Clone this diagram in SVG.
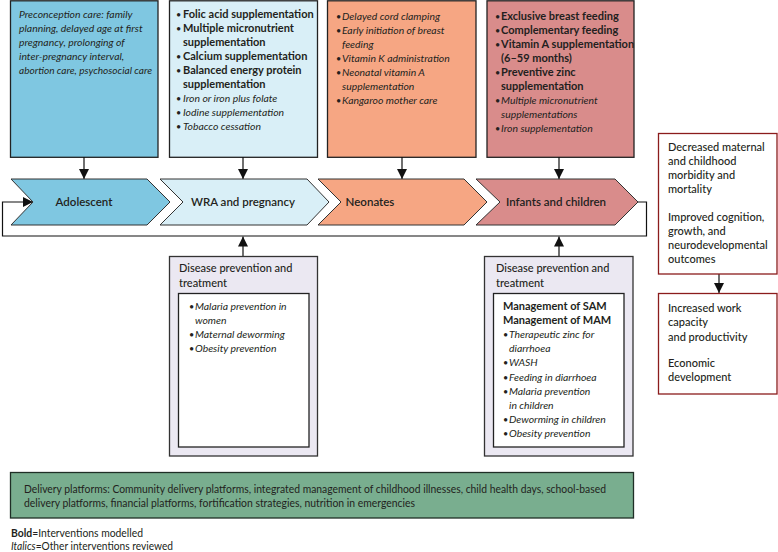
<svg xmlns="http://www.w3.org/2000/svg" width="778" height="552" viewBox="0 0 778 552">
<defs>
<marker id="ah" markerUnits="userSpaceOnUse" markerWidth="10" markerHeight="10" viewBox="0 0 10 10" refX="10" refY="5" orient="auto">
<path d="M0,0 L10,5 L0,10 Z" fill="#111"/>
</marker>
<style>
text{font-family:Lato,"Noto Sans","DejaVu Sans",sans-serif;font-size:11px;fill:#231f20}
.b{font-weight:bold}
.i{font-style:italic;font-size:10.4px}
.bl{font-size:9px}
.box{stroke:#222;stroke-width:1.3}
.chev{stroke:#333;stroke-width:1}
.out{fill:#fff;stroke:#8b1c1c;stroke-width:1.3}
.dz{fill:#ebe8f2;stroke:#333;stroke-width:1.3}
.inner{fill:#fff;stroke:#222;stroke-width:1.3}
.con{fill:none;stroke:#111;stroke-width:1.2}
.lbl{font-weight:600;font-size:11.5px}
.h{font-weight:500}
</style>
</defs>

<g id="box-adolescent">
<rect class="box" x="10.5" y="0.8" width="147.5" height="156.5" fill="#7fc7e1"/>
<text class="i" x="19" y="18">Preconception care: family</text>
<text class="i" x="19" y="32">planning, delayed age at first</text>
<text class="i" x="19" y="46">pregnancy, prolonging of</text>
<text class="i" x="19" y="60">inter-pregnancy interval,</text>
<text class="i" x="19" y="74" textLength="133" lengthAdjust="spacingAndGlyphs">abortion care, psychosocial care</text>
</g>

<g id="box-wra">
<rect class="box" x="169.5" y="0.8" width="148" height="156.5" fill="#d9eff7"/>
<text class="bl" x="176" y="17.5">•</text><text class="b" x="183" y="18">Folic acid supplementation</text>
<text class="bl" x="176" y="31.5">•</text><text class="b" x="183" y="32">Multiple micronutrient</text>
<text class="b" x="183" y="46">supplementation</text>
<text class="bl" x="176" y="59.5">•</text><text class="b" x="183" y="60">Calcium supplementation</text>
<text class="bl" x="176" y="73.5">•</text><text class="b" x="183" y="74">Balanced energy protein</text>
<text class="b" x="183" y="88">supplementation</text>
<text class="bl" x="176" y="101.5">•</text><text class="i" x="183" y="102">Iron or iron plus folate</text>
<text class="bl" x="176" y="115.5">•</text><text class="i" x="183" y="116">Iodine supplementation</text>
<text class="bl" x="176" y="129.5">•</text><text class="i" x="183" y="130">Tobacco cessation</text>
</g>

<g id="box-neonates">
<rect class="box" x="327.5" y="0.8" width="148.5" height="156.5" fill="#f6a683"/>
<text class="bl" x="336" y="19.5">•</text><text class="i" x="342" y="20">Delayed cord clamping</text>
<text class="bl" x="336" y="33.5">•</text><text class="i" x="342" y="34">Early initiation of breast</text>
<text class="i" x="342" y="48">feeding</text>
<text class="bl" x="336" y="61.5">•</text><text class="i" x="342" y="62">Vitamin K administration</text>
<text class="bl" x="336" y="75.5">•</text><text class="i" x="342" y="76">Neonatal vitamin A</text>
<text class="i" x="342" y="90">supplementation</text>
<text class="bl" x="336" y="103.5">•</text><text class="i" x="342" y="104">Kangaroo mother care</text>
</g>

<g id="box-infants">
<rect class="box" x="487" y="0.8" width="147" height="156.5" fill="#d98c8b"/>
<text class="bl" x="495" y="19.5">•</text><text class="b" x="501" y="20">Exclusive breast feeding</text>
<text class="bl" x="495" y="33.5">•</text><text class="b" x="501" y="34">Complementary feeding</text>
<text class="bl" x="495" y="47.5">•</text><text class="b" x="501" y="48">Vitamin A supplementation</text>
<text class="b" x="501" y="62">(6–59 months)</text>
<text class="bl" x="495" y="75.5">•</text><text class="b" x="501" y="76">Preventive zinc</text>
<text class="b" x="501" y="90">supplementation</text>
<text class="bl" x="495" y="103.5">•</text><text class="i" x="501" y="104">Multiple micronutrient</text>
<text class="i" x="501" y="118">supplementations</text>
<text class="bl" x="495" y="131.5">•</text><text class="i" x="501" y="132">Iron supplementation</text>
</g>

<g id="connectors">
<line class="con" x1="84" y1="157" x2="84" y2="179" marker-end="url(#ah)"/>
<line class="con" x1="243" y1="157" x2="243" y2="179" marker-end="url(#ah)"/>
<line class="con" x1="402" y1="157" x2="402" y2="179" marker-end="url(#ah)"/>
<line class="con" x1="559" y1="157" x2="559" y2="179" marker-end="url(#ah)"/>
<path class="con" d="M638,202 H646.5 V236 H2.5 V202 H33" marker-end="url(#ah)"/>
<line class="con" x1="243" y1="256" x2="243" y2="236.5" marker-end="url(#ah)"/>
<line class="con" x1="559" y1="256" x2="559" y2="236.5" marker-end="url(#ah)"/>
<line class="con" x1="719" y1="274" x2="719" y2="293" marker-end="url(#ah)"/>
</g>

<g id="stage-adolescent">
<polygon class="chev" points="11,179 147,179 170,202 147,225 11,225 33,202" fill="#7fc7e1"/>
<text class="lbl" x="84" y="206" text-anchor="middle">Adolescent</text>
</g>
<g id="stage-wra">
<polygon class="chev" points="160,179 307,179 329,202 307,225 160,225 183,202" fill="#d9eff7"/>
<text class="lbl" x="243" y="206" text-anchor="middle">WRA and pregnancy</text>
</g>
<g id="stage-neonates">
<polygon class="chev" points="318,179 464,179 487,202 464,225 318,225 341,202" fill="#f6a683"/>
<text class="lbl" x="370" y="206" text-anchor="middle">Neonates</text>
</g>
<g id="stage-infants">
<polygon class="chev" points="476,179 615,179 638,202 615,225 476,225 500,202" fill="#d98c8b"/>
<text class="lbl" x="556" y="206" text-anchor="middle">Infants and children</text>
</g>

<g id="disease-wra">
<rect class="dz" x="169.5" y="256.5" width="148" height="199.5"/>
<text class="h" x="179" y="272">Disease prevention and</text>
<text class="h" x="179" y="287">treatment</text>
<rect class="inner" x="178.5" y="293.5" width="130.5" height="153.5"/>
<text class="bl" x="189" y="309.5">•</text><text class="i" x="195" y="310">Malaria prevention in</text>
<text class="i" x="195" y="324">women</text>
<text class="bl" x="189" y="337.5">•</text><text class="i" x="195" y="338">Maternal deworming</text>
<text class="bl" x="189" y="351.5">•</text><text class="i" x="195" y="352">Obesity prevention</text>
</g>

<g id="disease-infants">
<rect class="dz" x="484.5" y="256.5" width="148.5" height="199.5"/>
<text class="h" x="496" y="272">Disease prevention and</text>
<text class="h" x="496" y="287">treatment</text>
<rect class="inner" x="493.5" y="293.5" width="130.5" height="153.5"/>
<text class="b" x="503" y="310">Management of SAM</text>
<text class="b" x="503" y="324">Management of MAM</text>
<text class="bl" x="503" y="337.5">•</text><text class="i" x="509" y="338">Therapeutic zinc for</text>
<text class="i" x="509" y="352">diarrhoea</text>
<text class="bl" x="503" y="365.5">•</text><text class="i" x="509" y="366">WASH</text>
<text class="bl" x="503" y="380.5">•</text><text class="i" x="509" y="381">Feeding in diarrhoea</text>
<text class="bl" x="503" y="394.5">•</text><text class="i" x="509" y="395">Malaria prevention</text>
<text class="i" x="509" y="409">in children</text>
<text class="bl" x="503" y="422.5">•</text><text class="i" x="509" y="423">Deworming in children</text>
<text class="bl" x="503" y="436.5">•</text><text class="i" x="509" y="437">Obesity prevention</text>
</g>

<g id="outcome-health">
<rect class="out" x="658.5" y="133.5" width="118.5" height="140.5"/>
<text class="h" x="668" y="151">Decreased maternal</text>
<text class="h" x="668" y="165">and childhood</text>
<text class="h" x="668" y="179">morbidity and</text>
<text class="h" x="668" y="193">mortality</text>
<text class="h" x="668" y="221">Improved cognition,</text>
<text class="h" x="668" y="235">growth, and</text>
<text class="h" x="668" y="249">neurodevelopmental</text>
<text class="h" x="668" y="263">outcomes</text>
</g>

<g id="outcome-economic">
<rect class="out" x="658.5" y="293.5" width="118.5" height="100.5"/>
<text class="h" x="668" y="312">Increased work</text>
<text class="h" x="668" y="326">capacity</text>
<text class="h" x="668" y="341">and productivity</text>
<text class="h" x="668" y="367">Economic</text>
<text class="h" x="668" y="381">development</text>
</g>

<g id="delivery">
<rect x="10.5" y="472.5" width="623" height="45.5" fill="#79ae8f" stroke="#1f2e26" stroke-width="1.3"/>
<text x="24" y="493" textLength="582" lengthAdjust="spacingAndGlyphs">Delivery platforms: Community delivery platforms, integrated management of childhood illnesses, child health days, school-based</text>
<text x="24" y="507" textLength="391" lengthAdjust="spacingAndGlyphs">delivery platforms, financial platforms, fortification strategies, nutrition in emergencies</text>
</g>

<g id="legend">
<text x="11" y="537" textLength="132" lengthAdjust="spacingAndGlyphs"><tspan class="b">Bold</tspan>=Interventions modelled</text>
<text x="11" y="550" textLength="162" lengthAdjust="spacingAndGlyphs"><tspan font-style="italic">Italics</tspan>=Other interventions reviewed</text>
</g>
</svg>
